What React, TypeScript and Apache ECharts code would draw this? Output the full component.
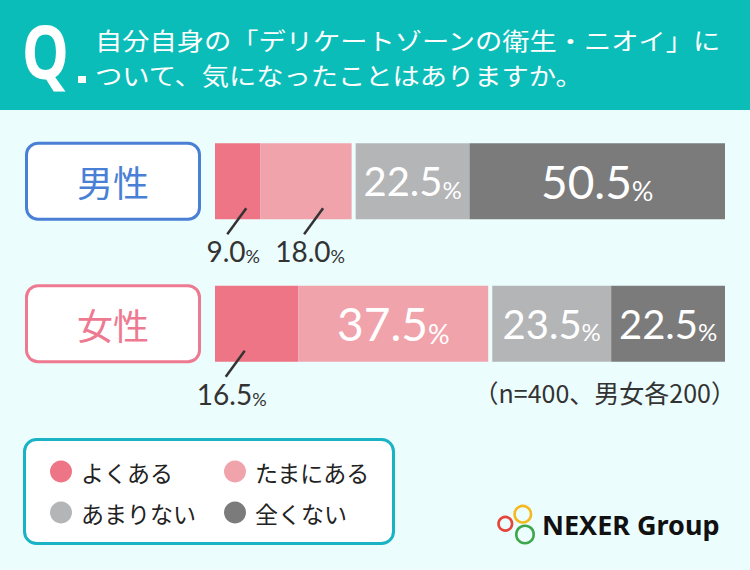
import React, { useEffect, useRef } from 'react';
import * as echarts from 'echarts';

const categories = ['男性', '女性'];
const seriesNames = ['よくある', 'たまにある', 'あまりない', '全くない'];
const often = [9.0, 16.5];
const sometimes = [18.0, 37.5];
const rarely = [22.5, 23.5];
const never = [50.5, 22.5];
const colors = ['#ee7585', '#f1a3ac', '#b4b5b7', '#7b7b7b'];
const titleLines = ['自分自身の「デリケートゾーンの衛生・ニオイ」に', 'ついて、気になったことはありますか。'];
const note = '（n=400、男女各200）';
const brand = 'NEXER Group';

const GAP = 0.8; // visual gap between "たまにある" and "あまりない"
const BAR_H = 76;
const OUTSIDE_LIMIT = 20; // values below this get an outside label
const OUTSIDE_DX = [-4.5, 4, -25];

const JP = '"Noto Sans CJK JP", "Noto Sans", sans-serif';
const NUM = 'Lato, "Noto Sans", sans-serif';

function numRich(color: string, border?: string) {
  const extra = border ? { textBorderColor: border, textBorderWidth: 1 } : {};
  return {
    nb: { fontSize: 46, lineHeight: 46, verticalAlign: 'bottom', fontFamily: NUM, color, ...extra },
    pb: { fontSize: 27, lineHeight: 32.7, verticalAlign: 'bottom', fontFamily: NUM, color, ...extra },
    ns: { fontSize: 40, lineHeight: 40, verticalAlign: 'bottom', fontFamily: NUM, color, ...extra },
    ps: { fontSize: 24, lineHeight: 28.8, verticalAlign: 'bottom', fontFamily: NUM, color, ...extra },
  };
}

function mkData(vals: number[]) {
  return vals.map((v) => {
    if (v < OUTSIDE_LIMIT) return { value: v, label: { show: false } };
    const big = v >= 30;
    return {
      value: v,
      label: {
        show: true,
        formatter: big ? `{nb|${v.toFixed(1)}}{pb|%}` : `{ns|${v.toFixed(1)}}{ps|%}`,
      },
    };
  });
}

export default function App() {
  const ref = useRef<HTMLDivElement>(null);

  useEffect(() => {
    if (!ref.current) return;
    const chart = echarts.init(ref.current, undefined, { renderer: 'svg' });

    const groups = [often, sometimes, rarely, never];
    // outside labels data: [start, end, categoryIndex, value]
    const outside: number[][] = [];
    categories.forEach((_, c) => {
      let cum = 0;
      [often, sometimes].forEach((arr) => {
        const v = arr[c];
        if (v < OUTSIDE_LIMIT) outside.push([cum, cum + v, c, v]);
        cum += v;
      });
    });

    const barSeries: any[] = [];
    groups.forEach((arr, i) => {
      barSeries.push({
        name: seriesNames[i],
        type: 'bar',
        stack: 'total',
        barWidth: BAR_H,
        itemStyle: { color: colors[i] },
        label: {
          show: true,
          position: 'inside',
          rich: numRich('#ffffff', i === 3 ? colors[3] : undefined),
        },
        data: mkData(arr),
        z: 2,
      });
      if (i === 1) {
        barSeries.push({
          name: 'gap',
          type: 'bar',
          stack: 'total',
          barWidth: BAR_H,
          silent: true,
          itemStyle: { color: 'rgba(0,0,0,0)' },
          label: { show: false },
          data: categories.map(() => GAP),
        });
      }
    });

    const outsideSeries = {
      name: 'outside',
      type: 'custom',
      z: 5,
      clip: false,
      encode: { x: [0, 1], y: 2 },
      data: outside,
      renderItem: (params: any, api: any) => {
        const s = api.value(0);
        const e = api.value(1);
        const c = api.value(2);
        const v = api.value(3);
        const p0 = api.coord([s, c]);
        const p1 = api.coord([e, c]);
        const cx = (p0[0] + p1[0]) / 2;
        const bottom = p0[1] + BAR_H / 2;
        const lx = cx + (OUTSIDE_DX[params.dataIndex] || 0);
        return {
          type: 'group',
          children: [
            {
              type: 'line',
              shape: { x1: lx + 13, y1: bottom - 11, x2: lx - 6, y2: bottom + 15 },
              style: { stroke: '#333333', lineWidth: 2.5 },
            },
            {
              type: 'text',
              x: lx,
              y: bottom + 32,
              style: {
                text: `{n|${Number(v).toFixed(1)}}{p|%}`,
                align: 'center',
                verticalAlign: 'middle',
                rich: {
                  n: { fontSize: 28, lineHeight: 28, verticalAlign: 'bottom', fontFamily: NUM, fill: '#333333', color: '#333333' },
                  p: { fontSize: 18, lineHeight: 21, verticalAlign: 'bottom', fontFamily: NUM, fill: '#333333', color: '#333333' },
                },
              },
            },
          ],
        };
      },
    };

    const option: any = {
      animation: false,
      backgroundColor: '#ebfdfd',
      grid: { left: 215, right: 25, top: 110, height: 285, containLabel: false },
      xAxis: { type: 'value', min: 0, max: 100 + GAP, show: false },
      yAxis: {
        type: 'category',
        data: categories,
        inverse: true,
        axisLine: { show: false },
        axisTick: { show: false },
        splitLine: { show: false },
        axisLabel: {
          margin: 17,
          formatter: (v: string) => (v === '男性' ? `{m|${v}}` : `{f|${v}}`),
          rich: {
            m: {
              width: 170, height: 73, lineHeight: 73, align: 'center',
              fontSize: 36, fontFamily: JP, color: '#4a7fd6',
              backgroundColor: '#ffffff', borderColor: '#4a7fd6', borderWidth: 3, borderRadius: 10,
            },
            f: {
              width: 170, height: 73, lineHeight: 73, align: 'center',
              fontSize: 36, fontFamily: JP, color: '#ee7a92',
              backgroundColor: '#ffffff', borderColor: '#ee7a92', borderWidth: 3, borderRadius: 10,
            },
          },
        },
      },
      legend: {
        data: seriesNames,
        left: 50,
        top: 460,
        width: 340,
        padding: 0,
        orient: 'horizontal',
        icon: 'circle',
        itemWidth: 22,
        itemHeight: 22,
        itemGap: 18,
        selectedMode: false,
        textStyle: {
          fontSize: 23, color: '#222222', fontFamily: JP,
          width: 125, lineHeight: 23, padding: [0, 0, 0, 4],
        },
        z: 10,
      },
      graphic: [
        { type: 'rect', z: 0, shape: { x: 0, y: 0, width: 750, height: 110 }, style: { fill: '#0abdb9' } },
        {
          type: 'text', z: 1, x: 22, y: 50, scaleX: 0.8,
          style: { text: 'Q', fill: '#ffffff', fontSize: 74, fontWeight: 'bold', fontFamily: '"Noto Sans", sans-serif', align: 'left', verticalAlign: 'middle' },
        },
        { type: 'rect', z: 1, shape: { x: 78, y: 76, width: 8, height: 7 }, style: { fill: '#ffffff' } },
        {
          type: 'text', z: 1, x: 95, y: 39.5, scaleX: 1.16,
          style: { text: titleLines[0], fill: '#ffffff', fontSize: 23.5, fontFamily: JP, align: 'left', verticalAlign: 'middle' },
        },
        {
          type: 'text', z: 1, x: 95, y: 74.5, scaleX: 1.16,
          style: { text: titleLines[1], fill: '#ffffff', fontSize: 23.5, fontFamily: JP, align: 'left', verticalAlign: 'middle' },
        },
        {
          type: 'text', z: 1, x: 736, y: 392,
          style: { text: note, fill: '#333333', fontSize: 25, fontFamily: JP, align: 'right', verticalAlign: 'middle' },
        },
        {
          type: 'rect', z: 0,
          shape: { x: 24.5, y: 439.5, width: 369, height: 104, r: 12 },
          style: { fill: '#ffffff', stroke: '#1ab3c4', lineWidth: 3 },
        },
        { type: 'circle', z: 1, shape: { cx: 505.3, cy: 523.8, r: 6.8 }, style: { fill: 'none', stroke: '#e5463c', lineWidth: 2.6 } },
        { type: 'circle', z: 1, shape: { cx: 522.8, cy: 514.2, r: 8.2 }, style: { fill: 'none', stroke: '#f4b91f', lineWidth: 2.6 } },
        { type: 'circle', z: 1, shape: { cx: 525, cy: 534.5, r: 8.7 }, style: { fill: 'none', stroke: '#3da64a', lineWidth: 2.6 } },
        {
          type: 'text', z: 1, x: 542, y: 524,
          style: { text: brand, fill: '#111111', fontSize: 27, fontWeight: 'bold', fontFamily: '"Noto Sans", sans-serif', align: 'left', verticalAlign: 'middle' },
        },
      ],
      series: [...barSeries, outsideSeries],
    };

    chart.setOption(option);
    return () => chart.dispose();
  }, []);

  return (
    <div
      ref={ref}
      style={{ position: 'absolute', left: 0, top: 0, width: 750, height: 570 }}
    />
  );
}
